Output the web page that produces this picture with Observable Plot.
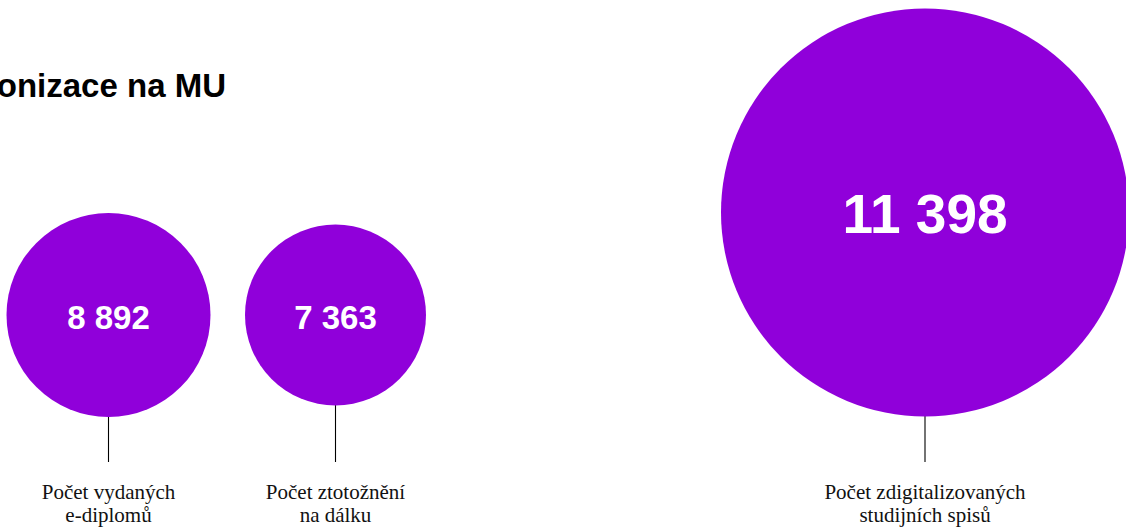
<!DOCTYPE html>
<html><head><meta charset="utf-8">
<script src="https://cdn.jsdelivr.net/npm/d3@7"></script>
<script src="https://cdn.jsdelivr.net/npm/@observablehq/plot@0.6"></script>
<style>
html,body{margin:0;padding:0;background:#fff;overflow:hidden;}
#wrap{position:relative;width:1126px;height:528px;}
#title{position:absolute;right:900px;top:69px;margin:0;font:bold 33px/33px "Liberation Sans",Arial,sans-serif;white-space:nowrap;color:#000;z-index:2;}
#wrap svg{position:absolute;left:0;top:0;}
</style></head><body>
<div id="wrap"><h2 id="title">Elektronizace na MU</h2></div>
<script>
const labels = ["Počet vydaných\ne-diplomů", "Počet ztotožnění\nna dálku", "Počet zdigitalizovaných\nstudijních spisů"];
const values = [8892, 7363, 11398];

const data = labels.map((label, i) => ({label, value: values[i]}));
const fmt = d3.formatLocale({thousands: " ", grouping: [3], decimal: ",", currency: ["", ""]}).format(",d");
const purple = "#9000DA";

const chart = Plot.plot({
  width: 1126, height: 528,
  marginTop: 250, marginRight: 0, marginBottom: 66, marginLeft: 0,
  style: {background: "transparent"},
  x: {type: "ordinal", domain: labels, range: [108, 335, 924.5], axis: null},
  y: {type: "ordinal", domain: labels, range: [314.5, 314.5, 212], axis: null},
  r: {type: "linear", domain: [7363, 8892, 11398], range: [90.5, 102, 204]},
  marks: [
    Plot.ruleX(data, {x: "label", stroke: "#000", strokeWidth: 1.1}),
    Plot.dot(data, {x: "label", y: "label", r: "value", fill: purple, stroke: null}),
    Plot.text(data, {x: "label", y: "label", text: d => fmt(d.value), fill: "white",
      fontWeight: "bold", fontFamily: "Liberation Sans, Arial, sans-serif",
      fontSize: d => d.value > 10000 ? 55 : 33, dy: 3}),
    Plot.text(data, {x: "label", frameAnchor: "bottom", text: "label", lineAnchor: "top",
      dy: 20, fontSize: 21, lineHeight: 1.1, fill: "#111",
      fontFamily: "Liberation Serif, Times New Roman, serif"})
  ]
});
document.getElementById("wrap").appendChild(chart);
</script>
</body></html>
